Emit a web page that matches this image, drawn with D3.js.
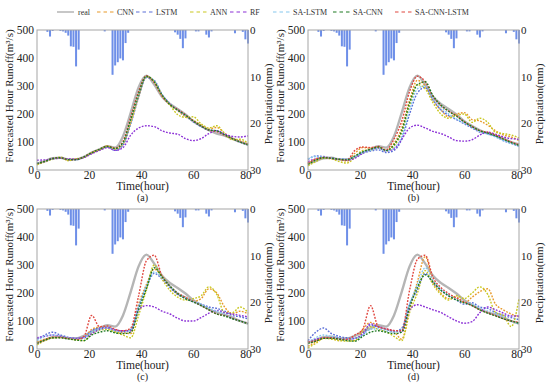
<!DOCTYPE html>
<html>
<head>
<meta charset="utf-8">
<script src="https://cdn.jsdelivr.net/npm/d3@7"></script>
<style>
  body { margin: 0; background: #fff; }
  svg { font-family: 'Liberation Serif', 'Times New Roman', serif; }
</style>
</head>
<body>
<svg id="chart" width="550" height="390"></svg>
<script>
// hours sampled for the runoff series
const hours = [0, 3, 6, 9, 12, 15, 18, 21, 24, 27, 30, 33, 36, 39, 42, 45, 48, 51, 54, 57, 60, 63, 66, 69, 72, 75, 78, 81]

// hourly precipitation (mm), hour 0..81
const precip = [0, 0, 0, 0, 0.4, 1.4, 0.2, 0, 0, 0.2, 0.3, 0.6, 1.2, 3.5, 3.6, 7.8, 4.2, 0, 0, 0,
  0, 0, 0, 0, 0, 0, 0.3, 0, 0, 9.6, 7.6, 6.9, 6.1, 6.5, 2.8, 0.6, 0, 0, 0, 0,
  0, 0, 0, 0, 0, 0, 0, 0, 0, 0, 0, 0, 0, 0.5, 1.0, 1.9, 3.9, 1.8, 0, 0,
  0, 0.3, 0.3, 0, 0, 1.0, 1.6, 0.3, 0, 0, 0, 0, 0, 0, 0, 0, 0.7, 0, 0, 0.4,
  2.0, 2.9]

const real = [22, 32, 42, 44, 38, 38, 47, 62, 74, 85, 80, 120, 205, 295, 337, 305, 262, 236, 218, 198, 174, 157, 142, 130, 123, 112, 100, 91]

// (a)
const cnn_a = [22, 28, 40, 44, 35, 38, 46, 60, 74, 84, 76, 92, 170, 262, 332, 318, 268, 236, 212, 190, 178, 160, 146, 152, 132, 114, 104, 92]
const lstm_a = [25, 30, 41, 43, 37, 36, 46, 61, 73, 83, 70, 88, 165, 258, 330, 320, 270, 238, 214, 194, 172, 155, 142, 140, 128, 112, 100, 90]
const ann_a = [18, 30, 38, 46, 33, 40, 45, 62, 72, 86, 74, 95, 172, 265, 334, 316, 266, 232, 198, 188, 190, 165, 150, 158, 130, 108, 110, 95]
const rf_a = [35, 36, 40, 42, 40, 38, 44, 58, 70, 80, 70, 80, 125, 150, 158, 155, 140, 132, 128, 112, 105, 112, 130, 140, 128, 120, 118, 122]
const salstm_a = [24, 30, 40, 44, 37, 37, 47, 61, 74, 84, 76, 95, 180, 270, 334, 318, 268, 236, 215, 196, 174, 156, 142, 138, 125, 112, 100, 90]
const sacnn_a = [23, 31, 41, 44, 37, 37, 47, 62, 74, 84, 77, 98, 182, 272, 335, 315, 268, 234, 214, 196, 175, 157, 143, 140, 126, 112, 100, 90]
const sacnnlstm_a = [23, 31, 41, 44, 37, 38, 47, 62, 74, 85, 78, 102, 190, 280, 337, 312, 264, 234, 216, 197, 175, 157, 142, 137, 124, 112, 100, 91]

// (b)
const cnn_b = [20, 40, 45, 40, 38, 32, 60, 80, 78, 82, 70, 95, 150, 250, 320, 300, 250, 215, 190, 200, 205, 180, 175, 160, 140, 125, 118, 105]
const lstm_b = [38, 50, 48, 42, 40, 38, 45, 60, 68, 72, 62, 70, 110, 200, 275, 295, 250, 215, 195, 180, 165, 150, 135, 130, 120, 105, 95, 85]
const ann_b = [15, 30, 42, 40, 30, 25, 45, 70, 72, 78, 68, 85, 135, 230, 305, 290, 240, 200, 185, 195, 200, 170, 185, 170, 135, 130, 125, 115]
const rf_b = [30, 40, 45, 42, 38, 35, 42, 60, 72, 78, 68, 75, 110, 150, 160, 150, 138, 130, 118, 105, 103, 108, 125, 135, 128, 118, 112, 110]
const salstm_b = [40, 48, 46, 42, 40, 38, 48, 62, 70, 78, 68, 78, 120, 215, 290, 300, 255, 225, 200, 182, 168, 152, 138, 128, 118, 105, 95, 85]
const sacnn_b = [20, 35, 44, 42, 38, 36, 50, 65, 74, 82, 70, 90, 140, 240, 305, 315, 265, 232, 210, 192, 172, 155, 140, 132, 122, 110, 98, 88]
const sacnnlstm_b = [25, 38, 45, 42, 38, 36, 70, 82, 80, 84, 72, 110, 175, 280, 335, 315, 262, 230, 210, 194, 172, 155, 140, 135, 125, 112, 100, 90]

// (c)
const cnn_c = [25, 35, 40, 40, 38, 35, 40, 70, 78, 75, 62, 58, 55, 160, 230, 285, 260, 225, 195, 185, 170, 180, 215, 200, 150, 125, 135, 125]
const lstm_c = [35, 50, 60, 50, 42, 38, 42, 65, 75, 78, 68, 62, 70, 150, 220, 270, 250, 220, 195, 180, 168, 160, 150, 145, 135, 120, 115, 108]
const ann_c = [15, 30, 40, 42, 38, 32, 30, 55, 68, 70, 60, 50, 40, 120, 210, 300, 250, 210, 185, 175, 180, 190, 222, 195, 130, 130, 150, 130]
const rf_c = [40, 45, 50, 45, 40, 38, 40, 55, 70, 75, 68, 65, 65, 140, 155, 150, 135, 125, 110, 100, 100, 112, 128, 138, 130, 125, 120, 115]
const salstm_c = [30, 45, 50, 45, 40, 36, 40, 60, 70, 75, 65, 62, 68, 150, 225, 275, 255, 225, 200, 185, 170, 160, 145, 135, 125, 110, 100, 92]
const sacnn_c = [20, 32, 40, 40, 36, 32, 30, 50, 60, 65, 58, 55, 60, 140, 215, 290, 258, 225, 198, 180, 168, 155, 140, 125, 118, 108, 100, 90]
const sacnnlstm_c = [20, 32, 42, 42, 38, 34, 45, 120, 80, 82, 70, 65, 75, 190, 315, 335, 260, 225, 200, 185, 170, 155, 140, 125, 120, 110, 100, 92]

// (d)
const cnn_d = [10, 25, 40, 38, 30, 35, 30, 70, 95, 80, 70, 62, 35, 140, 240, 330, 240, 200, 180, 185, 165, 185, 205, 215, 160, 140, 125, 115]
const lstm_d = [30, 60, 75, 55, 45, 40, 38, 50, 85, 78, 70, 62, 75, 160, 210, 270, 235, 210, 190, 175, 160, 165, 150, 145, 130, 120, 112, 105]
const ann_d = [5, 20, 38, 35, 30, 28, 30, 60, 80, 70, 62, 45, 30, 130, 200, 280, 230, 195, 175, 190, 180, 200, 222, 195, 130, 120, 80, 180]
const rf_d = [25, 35, 40, 40, 38, 35, 38, 55, 90, 80, 72, 65, 62, 140, 158, 150, 140, 130, 115, 100, 92, 98, 130, 150, 140, 128, 118, 118]
const salstm_d = [25, 40, 50, 45, 40, 35, 38, 50, 70, 72, 65, 60, 70, 160, 230, 290, 245, 215, 195, 180, 168, 160, 145, 135, 125, 112, 98, 90]
const sacnn_d = [20, 28, 38, 38, 35, 30, 28, 45, 60, 65, 60, 55, 60, 150, 220, 265, 240, 210, 190, 175, 165, 155, 140, 128, 118, 108, 100, 92]
const sacnnlstm_d = [25, 30, 38, 40, 36, 34, 50, 70, 155, 80, 72, 66, 65, 210, 320, 335, 255, 220, 198, 182, 168, 155, 140, 130, 120, 108, 100, 95]

const models = ['CNN', 'LSTM', 'ANN', 'RF', 'SA-LSTM', 'SA-CNN', 'SA-CNN-LSTM']
const colors = ['#e89a2a', '#5b6fd8', '#c9c720', '#8b30d6', '#86c8ee', '#1e7a22', '#e0463e']
const runoffTicks = [0, 100, 200, 300, 400, 500]
const precipTicks = [0, 10, 20, 30]
const timeTicks = [0, 20, 40, 60, 80]

const series = {
  a: [cnn_a, lstm_a, ann_a, rf_a, salstm_a, sacnn_a, sacnnlstm_a],
  b: [cnn_b, lstm_b, ann_b, rf_b, salstm_b, sacnn_b, sacnnlstm_b],
  c: [cnn_c, lstm_c, ann_c, rf_c, salstm_c, sacnn_c, sacnnlstm_c],
  d: [cnn_d, lstm_d, ann_d, rf_d, salstm_d, sacnn_d, sacnnlstm_d]
}
// draw order: green on top like the original
const drawOrder = [0, 1, 2, 3, 4, 6, 5]

const svg = d3.select('#chart')
const pw = 211
const ph = 140

const panels = [
  { key: 'a', left: 37, top: 30 },
  { key: 'b', left: 308, top: 30 },
  { key: 'c', left: 37, top: 209 },
  { key: 'd', left: 308, top: 209 }
]

panels.forEach(p => {
  let g = svg.append('g').attr('transform', 'translate(' + p.left + ',' + p.top + ')')
  let x = d3.scaleLinear().domain([0, 81]).range([0, pw])
  let y = d3.scaleLinear().domain([0, 500]).range([ph, 0])
  let yp = d3.scaleLinear().domain([0, 30]).range([0, ph])

  // precipitation bars hanging from the top
  g.append('g')
    .selectAll('rect')
    .data(precip)
    .enter()
    .append('rect')
    .attr('x', (d, i) => x(i) - 1)
    .attr('y', 0)
    .attr('width', 2)
    .attr('height', d => yp(d))
    .attr('fill', '#6e8fe8')

  let line = d3.line()
    .x((d, i) => x(hours[i]))
    .y(d => y(d))
    .curve(d3.curveMonotoneX)

  g.append('path')
    .attr('d', line(real))
    .attr('fill', 'none')
    .attr('stroke', '#b5b5b5')
    .attr('stroke-width', 2.4)

  drawOrder.forEach(k => {
    g.append('path')
      .attr('d', line(series[p.key][k]))
      .attr('fill', 'none')
      .attr('stroke', colors[k])
      .attr('stroke-width', 1.4)
      .attr('stroke-dasharray', '1.8,1.4')
  })

  // frame
  g.append('rect')
    .attr('width', pw)
    .attr('height', ph)
    .attr('fill', 'none')
    .attr('stroke', '#a6a6a6')
    .attr('stroke-width', 1)

  let leftAxis = g.append('g')
    .call(d3.axisLeft(y).tickValues(runoffTicks).tickSize(0).tickPadding(3))
  let rightAxis = g.append('g')
    .attr('transform', 'translate(' + pw + ',0)')
    .call(d3.axisRight(yp).tickValues(precipTicks).tickSize(0).tickPadding(2))
  let bottomAxis = g.append('g')
    .attr('transform', 'translate(0,' + ph + ')')
    .call(d3.axisBottom(x).tickValues(timeTicks).tickSize(0).tickPadding(1))

  ;[leftAxis, rightAxis, bottomAxis].forEach(a => {
    a.select('.domain').remove()
    a.selectAll('text')
      .attr('font-family', "'Liberation Serif', serif")
      .attr('font-size', 11.5)
      .attr('fill', '#222')
  })
  rightAxis.selectAll('text').attr('font-size', 11)

  g.append('text')
    .text('Forecasted Hour Runoff(m³/s)')
    .attr('transform', 'translate(-24,' + (ph / 2 - 4) + ') rotate(-90)')
    .attr('text-anchor', 'middle')
    .attr('font-size', 11)
    .attr('fill', '#222')

  g.append('text')
    .text('Precipitation(mm)')
    .attr('transform', 'translate(' + (pw + 24) + ',' + (ph / 2 + 4) + ') rotate(-90)')
    .attr('text-anchor', 'middle')
    .attr('font-size', 11)
    .attr('fill', '#222')

  g.append('text')
    .text('Time(hour)')
    .attr('x', pw / 2)
    .attr('y', ph + 20)
    .attr('text-anchor', 'middle')
    .attr('font-size', 11.5)
    .attr('fill', '#222')

  g.append('text')
    .text('(' + p.key + ')')
    .attr('x', pw / 2)
    .attr('y', ph + 31)
    .attr('text-anchor', 'middle')
    .attr('font-size', 10)
    .attr('fill', '#222')
})

// legend
const legendX = [57, 97, 136, 190, 230, 273, 333, 395]
const legendNames = ['real'].concat(models)
const legend = svg.append('g').attr('transform', 'translate(0,12)')
legendNames.forEach((n, i) => {
  let item = legend.append('g').attr('transform', 'translate(' + legendX[i] + ',0)')
  item.append('line')
    .attr('x1', 0).attr('x2', 17)
    .attr('stroke', i === 0 ? '#b5b5b5' : colors[i - 1])
    .attr('stroke-width', i === 0 ? 1.5 : 1.2)
    .attr('stroke-dasharray', i === 0 ? null : '3.5,3')
  item.append('text')
    .text(n)
    .attr('x', i === 0 ? 21 : 20)
    .attr('y', 3)
    .attr('font-size', 8)
    .attr('fill', '#333')
})
</script>
</body>
</html>
